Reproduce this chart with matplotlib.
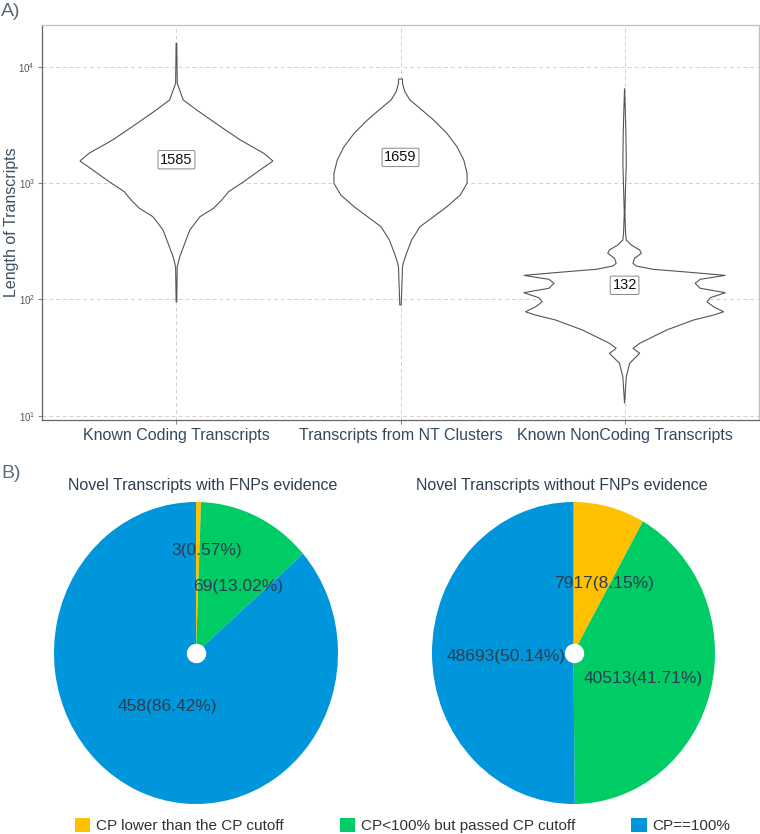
import numpy as np
import matplotlib
matplotlib.use("Agg")
import matplotlib.pyplot as plt
from matplotlib.patches import Patch
from matplotlib.ticker import NullLocator

plt.rcParams['font.family'] = ['Liberation Sans', 'DejaVu Sans']

# ---- Panel A: violin outlines (log10 length, half-width) ----
categories = ['Known Coding Transcripts', 'Transcripts from NT Clusters', 'Known NonCoding Transcripts']
medians = [1585, 1659, 132]

kc_log = [4.201, 3.857, 3.714, 3.628, 3.487, 3.370, 3.255, 3.189, 3.114, 3.011,
          2.925, 2.854, 2.782, 2.710, 2.596, 2.482, 2.366, 2.280, 1.979]
kc_w = [0.3, 0.8, 6.7, 20, 43.3, 63.3, 86.7, 95.7, 83.3, 66.7,
        51.7, 45, 36.7, 23.3, 13.3, 8.3, 3.3, 0.8, 0.3]

nt_log = [3.894, 3.857, 3.785, 3.714, 3.642, 3.542, 3.427, 3.312, 3.198, 3.083,
          2.997, 2.897, 2.796, 2.710, 2.624, 2.509, 2.396, 2.310, 2.280, 1.951]
nt_w = [2, 2, 4.3, 9.3, 19.3, 32.7, 46, 56, 62.7, 66,
        66, 59.3, 46, 32.7, 19.3, 11, 6, 2.7, 2, 0.7]

nc_log = [3.814, 3.628, 3.427, 3.169, 2.968, 2.739, 2.568, 2.510, 2.467, 2.424,
          2.396, 2.353, 2.310, 2.286, 2.258, 2.237, 2.206, 2.172, 2.138, 2.095,
          2.057, 2.014, 1.979, 1.936, 1.893, 1.865, 1.822, 1.736, 1.665, 1.622,
          1.579, 1.536, 1.450, 1.334, 1.106]
nc_w = [0, 0.7, 1.3, 1.7, 1.0, 0.3, 1.0, 1.7, 6.7, 15,
        16.7, 10, 8.3, 11.7, 28.3, 58.3, 100, 75, 70, 75,
        100, 85, 81.7, 88.3, 98.3, 88.3, 68.3, 41.7, 25, 15,
        8.3, 15, 5, 1.7, 0]

# ---- Panel B: pie data ----
pie_titles = ['Novel Transcripts with FNPs evidence', 'Novel Transcripts without FNPs evidence']
legend_labels = ['CP lower than the CP cutoff', 'CP<100% but passed CP cutoff', 'CP==100%']
with_fnp = [3, 69, 458]
with_fnp_pct = [0.57, 13.02, 86.42]
without_fnp = [7917, 40513, 48693]
without_fnp_pct = [8.15, 41.71, 50.14]
pie_colors = ['#FFC000', '#00CC66', '#0096DB']

# label anchors (clockwise angle from top in degrees, radius fraction)
label_angles = [[6.5, 33.7, 210], [25, 109, 267]]
label_radii = [[0.68, 0.53, 0.41], [0.51, 0.52, 0.48]]

W, H = 760, 834
fig = plt.figure(figsize=(W / 100, H / 100), dpi=100)

text_col = '#2c3e50'

# ---------------- A) violins ----------------
ax = fig.add_axes([42 / W, 1 - 420 / H, 717 / W, 395 / H])
all_w = [kc_w, nt_w, nc_w]
scale = 0.45 / max(max(w) for w in all_w)
for i, (logs, ws) in enumerate(zip([kc_log, nt_log, nc_log], all_w)):
    y = 10 ** np.array(logs)
    w = np.array(ws) * scale
    xs = np.concatenate([i + 1 + w, (i + 1 - w)[::-1]])
    ys = np.concatenate([y, y[::-1]])
    ax.fill(xs, ys, facecolor='white', edgecolor='#555555', lw=0.8, zorder=2)
    ax.text(i + 1, medians[i], str(medians[i]), ha='center', va='center',
            fontsize=10.5, color='#111111', zorder=3,
            bbox=dict(boxstyle='round,pad=0.15,rounding_size=0.1', fc='white',
                      ec='#888888', lw=0.7))

ax.set_yscale('log')
ax.set_ylim(9.18, 22800)
ax.set_xlim(0.4, 3.6)
ax.yaxis.set_minor_locator(NullLocator())
ax.set_xticks([1, 2, 3])
ax.set_xticklabels(categories, fontsize=11.5, color='#34495e')
ax.tick_params(axis='y', labelsize=7, labelcolor='#555555', length=3, color='#888888', pad=2)
ax.tick_params(axis='x', length=3, color='#888888', pad=3)
ax.grid(True, linestyle=(0, (4, 3)), color='#d0d0d0', lw=0.7)
ax.set_axisbelow(True)
ax.set_ylabel('Length of Transcripts', fontsize=11.5, color='#3d4f60')
ax.yaxis.set_label_coords(-23 / 717, 0.5 + 0 / 395)
for side in ['left', 'bottom']:
    ax.spines[side].set_color('#666666')
    ax.spines[side].set_linewidth(0.9)
for side in ['top', 'right']:
    ax.spines[side].set_color('#c0c0c0')
    ax.spines[side].set_linewidth(0.9)

fig.text(11 / W, 1 - 11 / H, 'A)', fontsize=14, color='#5a6b7b', ha='center', va='center')
fig.text(11 / W, 1 - 474 / H, 'B)', fontsize=14, color='#5a6b7b', ha='center', va='center')

# ---------------- B) pies ----------------
pie_boxes = [[54 / W, 1 - 804 / H, 284 / W, 302 / H],
             [432 / W, 1 - 804 / H, 283 / W, 302 / H]]
title_x = [203, 562]
for k, (counts, pcts) in enumerate([(with_fnp, with_fnp_pct), (without_fnp, without_fnp_pct)]):
    pa = fig.add_axes(pie_boxes[k])
    pa.pie(counts, colors=pie_colors, startangle=90, counterclock=False,
           radius=1, wedgeprops=dict(linewidth=0))
    pa.set_aspect('auto')
    pa.set_xlim(-1, 1)
    pa.set_ylim(-1, 1)
    pa.axis('off')
    pa.plot(0, 0, 'o', color='white', markersize=13, zorder=5)
    for j in range(3):
        th = np.deg2rad(label_angles[k][j])
        r = label_radii[k][j]
        pa.text(r * np.sin(th), r * np.cos(th), f'{counts[j]}({pcts[j]:.2f}%)',
                ha='center', va='center', fontsize=12.5, color=text_col, zorder=6)
    fig.text(title_x[k] / W, 1 - 485 / H, pie_titles[k], ha='center', va='center',
             fontsize=11.5, color=text_col)

handles = [Patch(facecolor=c, edgecolor='none') for c in pie_colors]
fig.legend(handles, legend_labels, ncol=3, loc='center left',
           bbox_to_anchor=(75 / W, 1 - 825.5 / H), frameon=False, fontsize=11,
           handlelength=1.0, handleheight=1.0, handletextpad=0.35,
           columnspacing=3.7, borderpad=0, borderaxespad=0, labelcolor='#333333')

fig.savefig('out.png', dpi=100)
